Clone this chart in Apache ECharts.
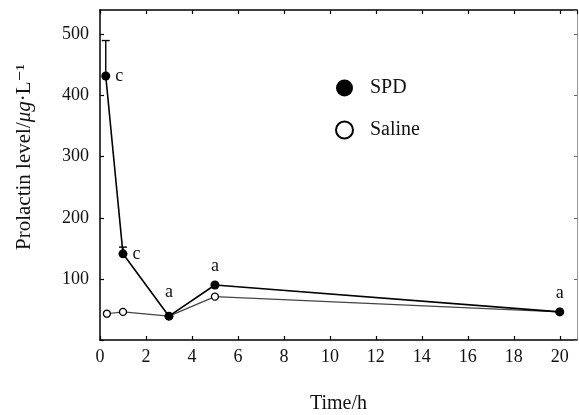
<!DOCTYPE html>
<html>
<head>
<meta charset="utf-8">
<script src="https://cdn.jsdelivr.net/npm/echarts@6/dist/echarts.min.js"></script>
<style>
  html, body { margin: 0; padding: 0; background: #fff; }
  #chart { width: 579px; height: 415px; }
</style>
</head>
<body>
<div id="chart"></div>
<script>
// Prolactin level after SPD vs saline injection
const FONT = "'Liberation Serif', 'DejaVu Serif', serif";

const spdTime = [0.25, 1, 3, 5, 20];
const spdLevel = [432, 141, 39, 90, 46];
const spdUpper = [490, 152, null, null, null];
const spdLetters = ['c', 'c', 'a', 'a', 'a'];
const spdLetterPos = ['right', 'right', 'top', 'top', 'top'];

const salineTime = [0.3, 1, 3, 5, 20];
const salineLevel = [43, 46, 39, 71, 46];

const chart = echarts.init(document.getElementById('chart'), null, { renderer: 'canvas' });

const spdData = spdTime.map((t, i) => ({
  value: [t, spdLevel[i]],
  label: {
    show: true,
    position: spdLetterPos[i],
    distance: i === 2 ? 10 : 5,
    formatter: spdLetters[i]
  }
}));
const salineData = salineTime.map((t, i) => [t, salineLevel[i]]);
const errData = [];
spdTime.forEach((t, i) => {
  if (spdUpper[i] != null) errData.push([t, spdLevel[i], spdUpper[i]]);
});

const axisLine = { onZero: false, lineStyle: { color: '#000', width: 1.5 } };
const tick = { inside: true, length: 4, lineStyle: { color: '#000', width: 1.2 } };

chart.setOption({
  backgroundColor: '#fff',
  animation: false,
  textStyle: { fontFamily: FONT, color: '#111' },
  grid: { left: 100, right: 2, top: 10, bottom: 75, outerBoundsMode: 'none', containLabel: false },
  legend: {
    orient: 'vertical',
    left: 330,
    top: 73,
    itemWidth: 17,
    itemHeight: 17,
    itemGap: 22,
    textStyle: { fontFamily: FONT, fontSize: 20, color: '#111', padding: [0, 0, 0, 12] },
    data: [
      { name: 'SPD', icon: 'circle' },
      { name: 'Saline', icon: 'circle' }
    ]
  },
  xAxis: [{
    type: 'value', min: 0, max: 20.75, interval: 2,
    name: 'Time/h', nameLocation: 'middle', nameGap: 54,
    nameTextStyle: { fontFamily: FONT, fontSize: 20, color: '#111' },
    axisLine: axisLine, axisTick: tick, splitLine: { show: false },
    axisLabel: {
      fontFamily: FONT, fontSize: 18, color: '#111', margin: 8,
      showMaxLabel: false,
      formatter: v => (v % 2 === 0 ? String(v) : '')
    }
  }, {
    type: 'value', position: 'top', min: 0, max: 20.75, interval: 2,
    axisLine: axisLine, axisTick: tick, axisLabel: { show: false }, splitLine: { show: false }
  }],
  yAxis: [{
    type: 'value', min: 0, max: 540, interval: 100,
    axisLine: axisLine, axisTick: tick, splitLine: { show: false },
    axisLabel: {
      fontFamily: FONT, fontSize: 18, color: '#111', margin: 11,
      showMaxLabel: false,
      formatter: v => (v === 0 || v > 500 ? '' : String(v))
    }
  }, {
    type: 'value', position: 'right', min: 0, max: 540, interval: 100,
    axisLine: { onZero: false, lineStyle: { color: '#999', width: 1 } },
    axisTick: { inside: true, length: 3, lineStyle: { color: '#666' } },
    axisLabel: { show: false }, splitLine: { show: false }
  }],
  graphic: [{
    type: 'text',
    x: 24, y: 157,
    rotation: Math.PI / 2,
    style: {
      text: '{n|Prolactin level/}{i|μg}{n|·L⁻¹}',
      fill: '#111',
      align: 'center',
      verticalAlign: 'middle',
      rich: {
        n: { fontFamily: FONT, fontSize: 21, fill: '#111' },
        i: { fontFamily: FONT, fontSize: 21, fontStyle: 'italic', fill: '#111' }
      }
    }
  }],
  series: [{
    name: 'Saline',
    type: 'line',
    data: salineData,
    symbol: 'circle',
    symbolSize: 7,
    lineStyle: { color: '#444', width: 1.2 },
    itemStyle: { color: '#fff', borderColor: '#000', borderWidth: 1.3 },
    z: 2
  }, {
    name: 'SPD',
    type: 'line',
    data: spdData,
    symbol: 'circle',
    symbolSize: 9,
    lineStyle: { color: '#000', width: 1.6 },
    itemStyle: { color: '#000' },
    label: { fontFamily: FONT, fontSize: 18, color: '#111' },
    z: 3
  }, {
    name: 'err',
    type: 'custom',
    data: errData,
    encode: { x: 0, y: [1, 2] },
    renderItem: (params, api) => {
      const p = api.coord([api.value(0), api.value(1)]);
      const q = api.coord([api.value(0), api.value(2)]);
      const style = { stroke: '#000', lineWidth: 1.4 };
      return {
        type: 'group',
        children: [
          { type: 'line', shape: { x1: p[0], y1: p[1], x2: q[0], y2: q[1] }, style },
          { type: 'line', shape: { x1: q[0] - 4, y1: q[1], x2: q[0] + 4, y2: q[1] }, style }
        ]
      };
    },
    z: 4
  }]
});
</script>
</body>
</html>
